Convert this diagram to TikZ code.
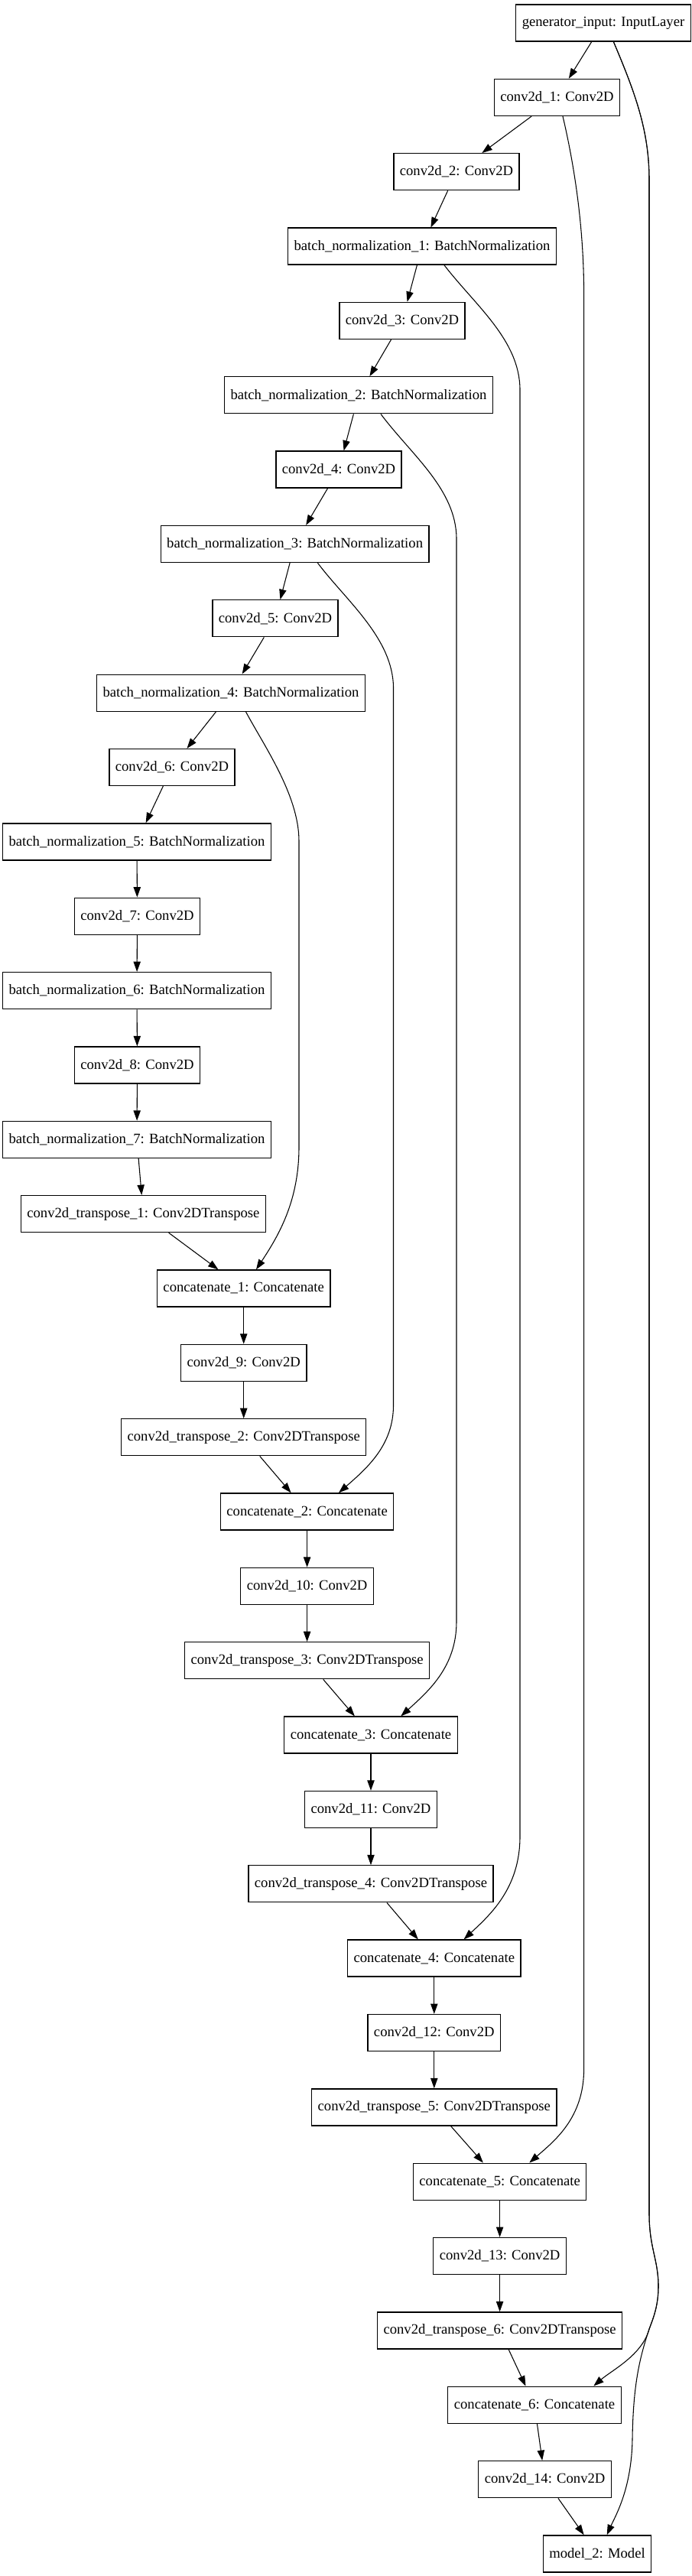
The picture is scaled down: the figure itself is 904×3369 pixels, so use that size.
\documentclass[tikz,border=0pt]{standalone}
\usepackage{fontspec}
\setmainfont{Liberation Serif}
\usetikzlibrary{arrows.meta,calc}

\begin{document}
\begin{tikzpicture}[x=0.75pt,y=-0.75pt,
		layer/.style={draw, line width=1pt, minimum height=36pt, inner xsep=6pt, inner ysep=0pt, font=\fontsize{14}{16}\selectfont},
		edge/.style={line width=0.8pt, -{Triangle[length=10pt,width=7pt]}}]
		\useasboundingbox (0,0) rectangle (904,3369);
		% encoder
		\node[layer] (gin) at (789,30) {generator\_input: InputLayer};
		\node[layer] (conv1) at (728.5,127.4) {conv2d\_1: Conv2D};
		\node[layer] (conv2) at (597,224.7) {conv2d\_2: Conv2D};
		\node[layer] (bn1) at (552,322.1) {batch\_normalization\_1: BatchNormalization};
		\node[layer] (conv3) at (526,419.4) {conv2d\_3: Conv2D};
		\node[layer] (bn2) at (469,516.8) {batch\_normalization\_2: BatchNormalization};
		\node[layer] (conv4) at (443,614.1) {conv2d\_4: Conv2D};
		\node[layer] (bn3) at (385.6,711.5) {batch\_normalization\_3: BatchNormalization};
		\node[layer] (conv5) at (360,808.8) {conv2d\_5: Conv2D};
		\node[layer] (bn4) at (302,906.2) {batch\_normalization\_4: BatchNormalization};
		\node[layer] (conv6) at (225,1003.5) {conv2d\_6: Conv2D};
		\node[layer] (bn5) at (179,1100.9) {batch\_normalization\_5: BatchNormalization};
		\node[layer] (conv7) at (179.5,1198.2) {conv2d\_7: Conv2D};
		\node[layer] (bn6) at (179,1295.6) {batch\_normalization\_6: BatchNormalization};
		\node[layer] (conv8) at (179.5,1392.9) {conv2d\_8: Conv2D};
		\node[layer] (bn7) at (179,1490.3) {batch\_normalization\_7: BatchNormalization};
		% decoder
		\node[layer] (tconv1) at (187.4,1587.6) {conv2d\_transpose\_1: Conv2DTranspose};
		\node[layer] (cat1) at (318.7,1685) {concatenate\_1: Concatenate};
		\node[layer] (conv9) at (318.7,1782.3) {conv2d\_9: Conv2D};
		\node[layer] (tconv2) at (318.7,1879.7) {conv2d\_transpose\_2: Conv2DTranspose};
		\node[layer] (cat2) at (401.6,1977) {concatenate\_2: Concatenate};
		\node[layer] (conv10) at (401.6,2074.4) {conv2d\_10: Conv2D};
		\node[layer] (tconv3) at (401.6,2171.7) {conv2d\_transpose\_3: Conv2DTranspose};
		\node[layer] (cat3) at (485,2269.1) {concatenate\_3: Concatenate};
		\node[layer] (conv11) at (485,2366.4) {conv2d\_11: Conv2D};
		\node[layer] (tconv4) at (485,2463.8) {conv2d\_transpose\_4: Conv2DTranspose};
		\node[layer] (cat4) at (567.8,2561.1) {concatenate\_4: Concatenate};
		\node[layer] (conv12) at (567.8,2658.5) {conv2d\_12: Conv2D};
		\node[layer] (tconv5) at (567.8,2755.8) {conv2d\_transpose\_5: Conv2DTranspose};
		\node[layer] (cat5) at (653.6,2853.2) {concatenate\_5: Concatenate};
		\node[layer] (conv13) at (653.6,2950.5) {conv2d\_13: Conv2D};
		\node[layer] (tconv6) at (653.6,3047.9) {conv2d\_transpose\_6: Conv2DTranspose};
		\node[layer] (cat6) at (699,3145.2) {concatenate\_6: Concatenate};
		\node[layer] (conv14) at (712.6,3242.6) {conv2d\_14: Conv2D};
		\node[layer] (model) at (781,3339.9) {model\_2: Model};
		% main chain
		\draw[edge] (gin) -- (conv1);
		\draw[edge] (conv1) -- (conv2);
		\draw[edge] (conv2) -- (bn1);
		\draw[edge] (bn1) -- (conv3);
		\draw[edge] (conv3) -- (bn2);
		\draw[edge] (bn2) -- (conv4);
		\draw[edge] (conv4) -- (bn3);
		\draw[edge] (bn3) -- (conv5);
		\draw[edge] (conv5) -- (bn4);
		\draw[edge] (bn4) -- (conv6);
		\draw[edge] (conv6) -- (bn5);
		\draw[edge] (bn5) -- (conv7);
		\draw[edge] (conv7) -- (bn6);
		\draw[edge] (bn6) -- (conv8);
		\draw[edge] (conv8) -- (bn7);
		\draw[edge] (bn7) -- (tconv1);
		\draw[edge] (tconv1) -- (cat1);
		\draw[edge] (cat1) -- (conv9);
		\draw[edge] (conv9) -- (tconv2);
		\draw[edge] (tconv2) -- (cat2);
		\draw[edge] (cat2) -- (conv10);
		\draw[edge] (conv10) -- (tconv3);
		\draw[edge] (tconv3) -- (cat3);
		\draw[edge] (cat3) -- (conv11);
		\draw[edge] (conv11) -- (tconv4);
		\draw[edge] (tconv4) -- (cat4);
		\draw[edge] (cat4) -- (conv12);
		\draw[edge] (conv12) -- (tconv5);
		\draw[edge] (tconv5) -- (cat5);
		\draw[edge] (cat5) -- (conv13);
		\draw[edge] (conv13) -- (tconv6);
		\draw[edge] (tconv6) -- (cat6);
		\draw[edge] (cat6) -- (conv14);
		\draw[edge] (conv14) -- (model);
		% skip connections
		\draw[edge] ($(bn4.south)+(19.5,0)$) .. controls (345,975) and (391,1040) .. (391,1100) -- (391,1500) .. controls (391,1570) and (365,1615) .. ($(cat1.north)+(16.3,0)$);
		\draw[edge] ($(bn3.south)+(29.8,0)$) .. controls (452,785) and (514.5,835) .. (514.5,900) -- (514.5,1838) .. controls (514.5,1890) and (480,1920) .. ($(cat2.north)+(41.4,0)$);
		\draw[edge] ($(bn2.south)+(29,0)$) .. controls (538,595) and (597,640) .. (597,705) -- (597,2121) .. controls (597,2180) and (560,2212) .. ($(cat3.north)+(39.3,0)$);
		\draw[edge] ($(bn1.south)+(29,0)$) .. controls (622,400) and (680,445) .. (680,510) -- (680,2402) .. controls (680,2470) and (640,2505) .. ($(cat4.north)+(38.8,0)$);
		\draw[edge] ($(conv1.south)+(7.5,0)$) .. controls (752,220) and (763.6,300) .. (763.6,385) -- (763.6,2706) .. controls (763.6,2770) and (725,2800) .. ($(cat5.north)+(38.7,0)$);
		\draw[edge] ($(gin.south)+(13.4,0)$) .. controls (830,120) and (849,170) .. (849,235) -- (849,2895) .. controls (849,2940) and (861,2955) .. (861,2990) .. controls (861,3015) and (855,3030) .. (849,3046) .. controls (840,3080) and (800,3100) .. ($(cat6.north)+(77.3,0)$);
		\draw[edge] ($(gin.south)+(13.4,0)$) .. controls (830,120) and (849,170) .. (849,235) -- (849,2895) .. controls (849,2940) and (861,2955) .. (861,2990) .. controls (861,3015) and (855,3030) .. (849,3046) .. controls (836,3085) and (828,3120) .. (827,3190) .. controls (826,3255) and (805,3290) .. ($(model.north)+(12.7,0)$);
	\end{tikzpicture}
\end{document}
